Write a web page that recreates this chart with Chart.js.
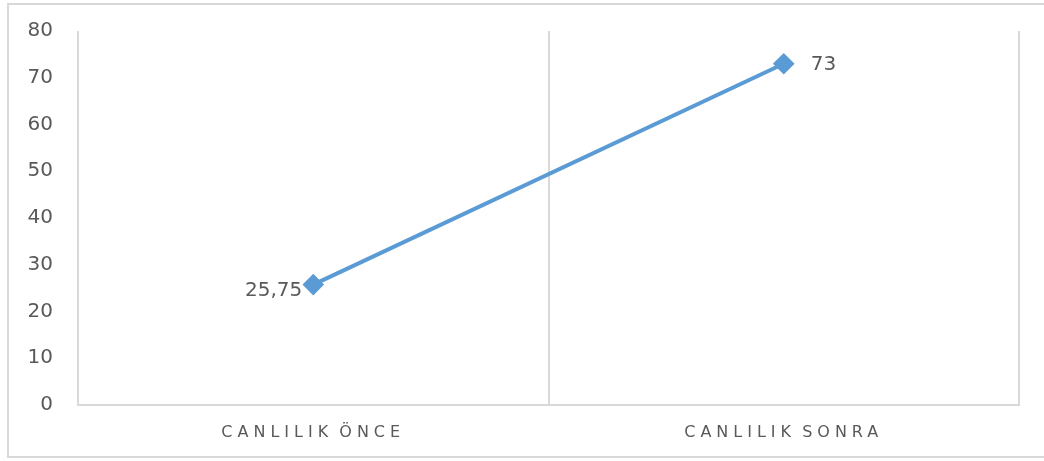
<!DOCTYPE html>
<html>
<head>
<meta charset="utf-8">
<script src="https://cdn.jsdelivr.net/npm/chart.js@4/dist/chart.umd.min.js"></script>
<style>
  html, body { margin: 0; padding: 0; background: #ffffff; overflow: hidden; }
  canvas { position: absolute; left: 0; top: 0; }
</style>
</head>
<body>
<canvas id="c" width="1044" height="461"></canvas>
<script>
// ---- data ----
const categories = ["CANLILIK ÖNCE", "CANLILIK SONRA"];
const values = [25.75, 73];
const yTicks = [0, 10, 20, 30, 40, 50, 60, 70, 80];

const TEXT = '#595959';
const LINE = '#5B9BD5';
const GRID = '#d9d9d9';

const fmt = v => String(v).replace('.', ',');

// outer frame: top, left and bottom edges (right edge lies outside the crop)
const framePlugin = {
  id: 'frame',
  beforeDraw(chart) {
    const ctx = chart.ctx;
    ctx.save();
    ctx.strokeStyle = GRID;
    ctx.lineWidth = 2;
    ctx.beginPath();
    ctx.moveTo(chart.width + 20, 4);
    ctx.lineTo(8, 4);
    ctx.lineTo(8, 457);
    ctx.lineTo(chart.width + 20, 457);
    ctx.stroke();
    ctx.restore();
  }
};

// value labels (left of first point, right of second)
const labelPlugin = {
  id: 'valueLabels',
  afterDatasetsDraw(chart) {
    const ctx = chart.ctx;
    const meta = chart.getDatasetMeta(0);
    ctx.save();
    ctx.font = '20px "DejaVu Sans"';
    ctx.fillStyle = TEXT;
    ctx.textBaseline = 'middle';
    meta.data.forEach((pt, i) => {
      const v = chart.data.datasets[0].data[i];
      if (i === 0) {
        ctx.textAlign = 'right';
        ctx.fillText(fmt(v), pt.x - 11, pt.y + 6);
      } else {
        ctx.textAlign = 'left';
        ctx.fillText(fmt(v), pt.x + 27, pt.y + 1);
      }
    });
    ctx.restore();
  }
};

// letter spacing for category labels
const spacingPlugin = {
  id: 'xSpacing',
  beforeDraw(chart) {
    const s = chart.scales.x;
    if (s && !s._spaced) {
      const orig = s.drawLabels.bind(s);
      s.drawLabels = function (area) {
        const c = this.ctx;
        c.save();
        c.letterSpacing = '5px';
        c.wordSpacing = '-4px';
        orig(area);
        c.restore();
      };
      s._spaced = true;
    }
  }
};

new Chart(document.getElementById('c'), {
  type: 'line',
  data: {
    labels: categories,
    datasets: [{
      data: values,
      borderColor: LINE,
      backgroundColor: LINE,
      borderWidth: 4,
      pointStyle: 'rectRot',
      pointRadius: 8,
      pointHoverRadius: 8,
      pointBackgroundColor: LINE,
      pointBorderColor: LINE,
      tension: 0,
      fill: false
    }]
  },
  options: {
    responsive: false,
    animation: false,
    events: [],
    layout: { padding: { left: 0, right: 25, top: 31, bottom: 0 } },
    plugins: { legend: { display: false }, tooltip: { enabled: false } },
    scales: {
      x: {
        offset: true,
        grid: { display: true, offset: true, color: GRID, lineWidth: 2, drawTicks: false },
        border: { display: true, color: GRID, width: 2 },
        ticks: { color: TEXT, font: { family: 'DejaVu Sans', size: 16 }, padding: 18, maxRotation: 0 },
        afterFit(scale) { scale.height = 56; }
      },
      y: {
        min: 0, max: 80,
        grid: { display: false, drawTicks: false },
        border: { display: false },
        afterBuildTicks(scale) { scale.ticks = yTicks.map(v => ({ value: v })); },
        ticks: { color: TEXT, font: { family: 'DejaVu Sans', size: 20 }, padding: 25 },
        afterFit(scale) { scale.width = 78; scale.paddingTop = 0; scale.paddingBottom = 0; }
      }
    }
  },
  plugins: [framePlugin, labelPlugin, spacingPlugin]
});
</script>
</body>
</html>
